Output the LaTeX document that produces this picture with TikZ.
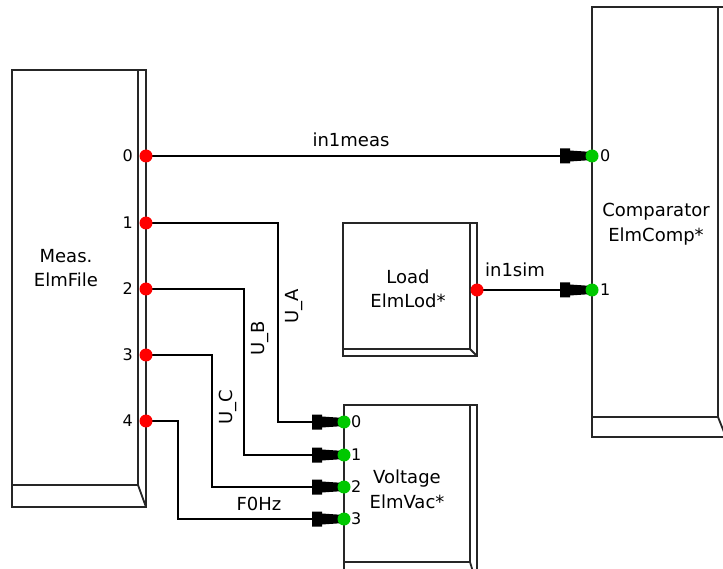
\documentclass[tikz,border=0pt]{standalone}
\usepackage{fontspec}
\setmainfont{DejaVu Sans}
\definecolor{portred}{RGB}{255,0,0}
\definecolor{portgreen}{RGB}{0,200,0}
\begin{document}
\begin{tikzpicture}[x=1pt,y=-1pt,
  frame/.style={draw=black!85, line width=1.8pt, inner sep=0pt, outer sep=0pt, anchor=north west},
  edge/.style={draw=black!85, line width=1.8pt},
  wire/.style={draw=black, line width=1.5pt},
  lbl/.style={font=\fontsize{18}{20}\selectfont, inner sep=0pt, anchor=base},
  rlbl/.style={font=\fontsize{18}{20}\selectfont, inner sep=0pt, rotate=90},
  pnum/.style={font=\fontsize{16}{18}\selectfont, inner sep=0pt},
  outdot/.style={circle, fill=portred, minimum size=13pt, inner sep=0pt},
  indot/.style={circle, fill=portgreen, minimum size=13pt, inner sep=0pt},
  plug/.pic={\fill[black] (-32,-7.5) -- (-22,-7.5) -- (-22,-5.5) -- (0,-4) -- (0,4) -- (-22,5.5) -- (-22,7.5) -- (-32,7.5) -- cycle;}]
\useasboundingbox (0,0) rectangle (723,569);
\clip (0,0) rectangle (723,569);

% port coordinates
\coordinate (m0) at (146,156);
\coordinate (m1) at (146,223);
\coordinate (m2) at (146,289);
\coordinate (m3) at (146,355);
\coordinate (m4) at (146,421);
\coordinate (c0) at (592,156);
\coordinate (c1) at (592,290);
\coordinate (l0) at (477,290);
\coordinate (v0) at (344,422);
\coordinate (v1) at (344,455);
\coordinate (v2) at (344,487);
\coordinate (v3) at (344,519);

% connectors
\draw[wire] (m0) -- (c0);
\draw[wire] (l0) -- (c1);
\draw[wire] (m1) -- ++(132,0) |- (v0);
\draw[wire] (m2) -- ++(98,0) |- (v1);
\draw[wire] (m3) -- ++(66,0) |- (v2);
\draw[wire] (m4) -- ++(32,0) |- (v3);

% boxes
\node[frame, minimum width=134pt, minimum height=437pt] (meas) at (12,70) {};
\draw[edge] (138,70) -- (138,485) -- (12,485);
\draw[edge] (138,485) -- (146,507);

\node[frame, minimum width=134pt, minimum height=133pt] (load) at (343,223) {};
\draw[edge] (470,223) -- (470,349) -- (343,349);
\draw[edge] (470,349) -- (477,356);

\node[frame, minimum width=133pt, minimum height=180pt] (volt) at (344,405) {};
\draw[edge] (470,405) -- (470,562) -- (344,562);
\draw[edge] (470,562) -- (477,585);

\node[frame, minimum width=134pt, minimum height=430pt] (comp) at (592,7) {};
\draw[edge] (718,7) -- (718,417) -- (592,417);
\draw[edge] (718,417) -- (726,437);

% box texts
\node[lbl] (tm1) at (66,263) {Meas.};
\node[lbl] (tm2) at (66,287) {ElmFile};
\node[lbl] (tc1) at (656,217) {Comparator};
\node[lbl] (tc2) at (656,242) {ElmComp*};
\node[lbl] (tl1) at (408,284) {Load};
\node[lbl] (tl2) at (408,308) {ElmLod*};
\node[lbl] (tv1) at (407,483) {Voltage};
\node[lbl] (tv2) at (407,508) {ElmVac*};

% connector labels
\node[lbl] (lin1meas) at (351,147) {in1meas};
\node[lbl] (lin1sim) at (515,277) {in1sim};
\node[lbl] (lf0hz) at (259,510) {F0Hz};
\node[rlbl] (lua) at (294,306) {U\_A};
\node[rlbl] (lub) at (260,338) {U\_B};
\node[rlbl] (luc) at (227.5,407) {U\_C};

% port numbers
\node[pnum, anchor=east] (pm0) at (133,156) {0};
\node[pnum, anchor=east] (pm1) at (133,223) {1};
\node[pnum, anchor=east] (pm2) at (133,289) {2};
\node[pnum, anchor=east] (pm3) at (133,355) {3};
\node[pnum, anchor=east] (pm4) at (133,421) {4};
\node[pnum, anchor=west] (pc0) at (600,156) {0};
\node[pnum, anchor=west] (pc1) at (600,290) {1};
\node[pnum, anchor=west] (pv0) at (351,422) {0};
\node[pnum, anchor=west] (pv1) at (351,455) {1};
\node[pnum, anchor=west] (pv2) at (351,487) {2};
\node[pnum, anchor=west] (pv3) at (351,519) {3};

% plugs
\pic at (c0) {plug};
\pic at (c1) {plug};
\pic at (v0) {plug};
\pic at (v1) {plug};
\pic at (v2) {plug};
\pic at (v3) {plug};

% port dots
\node[outdot] (dm0) at (m0) {};
\node[outdot] (dm1) at (m1) {};
\node[outdot] (dm2) at (m2) {};
\node[outdot] (dm3) at (m3) {};
\node[outdot] (dm4) at (m4) {};
\node[outdot] (dl0) at (l0) {};
\node[indot] (dc0) at (c0) {};
\node[indot] (dc1) at (c1) {};
\node[indot] (dv0) at (v0) {};
\node[indot] (dv1) at (v1) {};
\node[indot] (dv2) at (v2) {};
\node[indot] (dv3) at (v3) {};
\end{tikzpicture}
\end{document}
